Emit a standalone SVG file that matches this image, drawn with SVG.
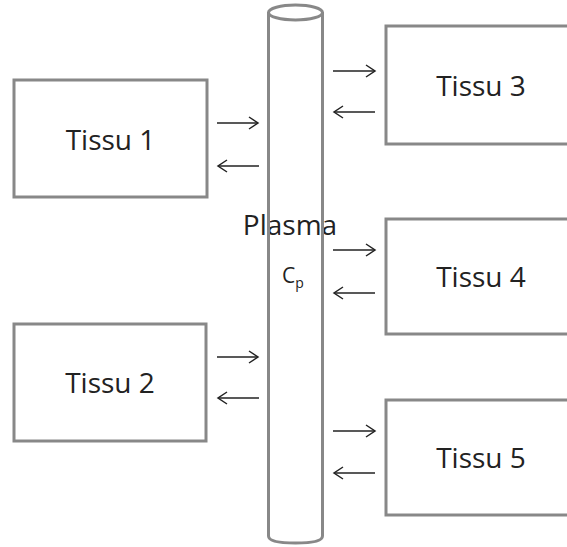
<svg xmlns="http://www.w3.org/2000/svg" width="567" height="547" viewBox="0 0 567 547">
<defs>
<marker id="ah" markerWidth="12" markerHeight="14" refX="10" refY="7" orient="auto" markerUnits="userSpaceOnUse">
<path d="M1,1 L10,7 L1,13" fill="none" stroke="#222" stroke-width="1.5"/>
</marker>
<style>
.box{fill:#fff;stroke:#888;stroke-width:3}
.lbl{font-family:"Open Sans","Liberation Sans",sans-serif;font-size:28px;fill:#222;text-anchor:middle}
.arr{stroke:#222;stroke-width:1.5;fill:none;marker-end:url(#ah)}
.cyl{fill:none;stroke:#888;stroke-width:3}
</style>
</defs>
<rect width="567" height="547" fill="#fff"/>
<g id="plasma">
<text x="290" y="235" style="font-family:'Open Sans','Liberation Sans',sans-serif;font-size:28px;fill:#222" text-anchor="middle">Plasma</text>
<text x="282" y="283" style="font-family:'Open Sans','Liberation Sans',sans-serif;font-size:21px;fill:#222">C<tspan font-size="14" dy="5">p</tspan></text>
<path class="cyl" d="M268.5,12 L268.5,536 Q268.5,543 295.5,543 Q322.5,543 322.5,536 L322.5,12"/>
<ellipse class="cyl" cx="295.5" cy="12.5" rx="27" ry="7.5"/>
</g>
<g id="tissu1"><rect class="box" x="14" y="80" width="193" height="117"/><text class="lbl" x="110.5" y="150">Tissu 1</text></g>
<g id="tissu2"><rect class="box" x="14" y="324" width="192" height="117"/><text class="lbl" x="110" y="393">Tissu 2</text></g>
<g id="tissu3"><rect class="box" x="386" y="26" width="194" height="118"/><text class="lbl" x="481" y="96">Tissu 3</text></g>
<g id="tissu4"><rect class="box" x="386" y="219" width="194" height="115"/><text class="lbl" x="481" y="287">Tissu 4</text></g>
<g id="tissu5"><rect class="box" x="386" y="400" width="194" height="115"/><text class="lbl" x="481" y="468">Tissu 5</text></g>
<g id="connectors">
<line class="arr" x1="217" y1="123" x2="258" y2="123"/>
<line class="arr" x1="259" y1="166" x2="218" y2="166"/>
<line class="arr" x1="217" y1="357" x2="258" y2="357"/>
<line class="arr" x1="259" y1="398" x2="218" y2="398"/>
<line class="arr" x1="333" y1="71" x2="375" y2="71"/>
<line class="arr" x1="375" y1="112" x2="334" y2="112"/>
<line class="arr" x1="333" y1="250" x2="375" y2="250"/>
<line class="arr" x1="375" y1="293" x2="334" y2="293"/>
<line class="arr" x1="333" y1="431" x2="375" y2="431"/>
<line class="arr" x1="375" y1="473" x2="334" y2="473"/>
</g>
</svg>
